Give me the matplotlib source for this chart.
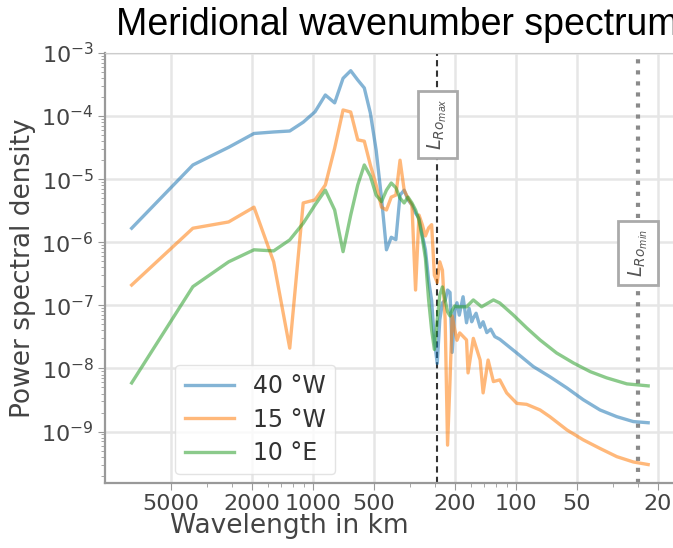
import numpy as np
import matplotlib.pyplot as plt
from matplotlib.ticker import NullFormatter

# spectra: wavelength (km) and power spectral density, one list pair per section
wl_40w = [7810, 3900, 2600, 1950, 1560, 1300, 1116, 976, 868, 781, 710, 651, 601, 558,
          521, 488, 459, 434, 411, 390, 372, 355, 340, 325, 312, 300, 289, 279, 269,
          260, 252, 244, 237, 230, 223, 217, 211, 206, 200, 195, 190, 182, 175, 170,
          165, 162, 157, 150, 145, 139, 133, 127, 120, 99, 82, 68, 56, 46.6, 38.5,
          31.8, 26.4, 22.3]
psd_40w = [1.67e-6, 1.68e-5, 3.2e-5, 5.3e-5, 5.6e-5, 5.8e-5, 8.0e-5, 1.17e-4, 2.16e-4,
           1.62e-4, 3.97e-4, 5.24e-4, 3.73e-4, 2.79e-4, 1.12e-4, 2.9e-5, 5.0e-6, 7.6e-7,
           1.2e-6, 1.1e-6, 5.6e-6, 6.7e-6, 4.7e-6, 3.9e-6, 2.9e-6, 2.4e-6, 1.3e-6, 7.6e-7,
           2.5e-7, 1.2e-7, 2.8e-8, 1.2e-8, 5.9e-8, 1.1e-7, 1.2e-7, 1.75e-7, 1.6e-7, 1.8e-8,
           8.4e-8, 1.1e-7, 7.0e-8, 1.37e-7, 5.3e-8, 9.0e-8, 5.5e-8, 6.3e-8, 7.5e-8, 4.5e-8,
           5.5e-8, 3.7e-8, 4.2e-8, 3.2e-8, 2.9e-8, 1.76e-8, 1.07e-8, 7.4e-9, 4.9e-9, 3.2e-9,
           2.2e-9, 1.72e-9, 1.44e-9, 1.38e-9]

wl_15w = [7810, 3900, 2600, 1950, 1560, 1300, 1116, 976, 868, 781, 710, 651, 601, 558,
          521, 488, 459, 434, 411, 390, 372, 355, 340, 325, 312, 300, 289, 279, 269,
          260, 252, 244, 237, 230, 223, 217, 211, 206, 200, 195, 189, 175, 172, 162,
          150, 145, 137, 129, 120, 111, 99, 88.5, 76, 68, 56, 46.6, 38.5, 31.8, 26.4, 22.3]
psd_15w = [2.1e-7, 1.67e-6, 2.1e-6, 3.6e-6, 4.9e-7, 2.1e-8, 4.2e-6, 4.7e-6, 8.1e-6, 3.1e-5,
           1.25e-4, 1.16e-4, 4.2e-5, 4.0e-5, 1.68e-5, 8.1e-6, 3.6e-6, 3.25e-6, 5.2e-6, 5.6e-6,
           2.0e-5, 6.7e-6, 5.0e-6, 3.9e-6, 1.75e-7, 2.7e-6, 1.9e-6, 1.26e-6, 1.69e-6, 1.9e-6,
           3.0e-7, 2.3e-7, 4.9e-7, 3.6e-7, 5.9e-8, 6.1e-10, 6.6e-9, 6.8e-8, 4.1e-8, 2.8e-8,
           3.66e-8, 2.83e-8, 8.5e-9, 3.0e-8, 1.36e-8, 4.1e-9, 1.36e-8, 6.2e-9, 6.6e-9, 4.1e-9,
           2.8e-9, 2.7e-9, 2.2e-9, 1.72e-9, 1.06e-9, 7.4e-10, 5.4e-10, 4.0e-10, 3.3e-10, 3.0e-10]

wl_10e = [7810, 3900, 2600, 1950, 1560, 1300, 1116, 976, 868, 781, 710, 651, 601, 558,
          521, 488, 459, 434, 411, 390, 372, 355, 340, 325, 312, 300, 289, 279, 269,
          260, 252, 244, 237, 230, 223, 217, 211, 206, 200, 195, 175, 162, 147.5, 129,
          120, 103, 88.5, 76, 63, 52, 43, 35.7, 28.4, 22.3]
psd_10e = [5.9e-9, 1.98e-7, 4.9e-7, 7.6e-7, 7.3e-7, 1.09e-6, 2.0e-6, 3.9e-6, 6.7e-6, 3.25e-6,
           7.1e-7, 2.7e-6, 8.1e-6, 1.68e-5, 1.12e-5, 5.6e-6, 4.4e-6, 6.7e-6, 8.7e-6, 7.3e-6,
           5.0e-6, 4.2e-6, 5.2e-6, 4.2e-6, 3.25e-6, 2.25e-6, 1.17e-6, 5.6e-7, 1.22e-7, 4.1e-8,
           2.0e-8, 5.9e-8, 1.46e-7, 1.96e-7, 1.2e-7, 7.9e-8, 6.8e-8, 8.4e-8, 9.8e-8, 9.5e-8,
           9.5e-8, 1.22e-7, 9.5e-8, 1.22e-7, 1.09e-7, 7.05e-8, 4.4e-8, 2.83e-8, 1.76e-8,
           1.22e-8, 8.9e-9, 7.1e-9, 5.7e-9, 5.3e-9]

labels = ['40 °W', '15 °W', '10 °E']
tick_km = [5000, 2000, 1000, 500, 200, 100, 50, 20]
lro_max, lro_min = 244, 25  # Rossby radius limits, km

fig = plt.figure(figsize=(6.73, 5.48), dpi=100)
ax = fig.add_axes([0.156, 0.1186, 0.869, 0.7847])

colors = ['tab:blue', 'tab:orange', 'tab:green']
for wl, psd, lab, c in zip([wl_40w, wl_15w, wl_10e], [psd_40w, psd_15w, psd_10e], labels, colors):
    ax.plot(1.0 / np.array(wl), psd, color=c, alpha=0.55, lw=2.4, label=lab)

ax.set_xscale('log')
ax.set_yscale('log')
ax.set_xlim(1 / 10570, 1 / 13.9)
ax.set_ylim(1.53e-10, 1e-3)

ax.set_xticks(1.0 / np.array(tick_km))
ax.set_xticklabels([str(t) for t in tick_km])
ax.xaxis.set_minor_formatter(NullFormatter())
ax.yaxis.set_minor_formatter(NullFormatter())

# Rossby radius markers
ax.axvline(1 / lro_max, color='#333333', ls='--', lw=1.5, dashes=(3, 2), zorder=1)
ax.axvline(1 / lro_min, color='#8a8a8a', ls=':', lw=3, zorder=1)
box = dict(boxstyle='square,pad=0.4', fc='white', ec='#aaaaaa', lw=2)
ax.text(1 / lro_max, 7.4e-5, r'$L_{Ro_{max}}$', rotation=90, ha='center', va='center',
        fontsize=14, color='#555555', bbox=box)
ax.text(1 / lro_min, 6.8e-7, r'$L_{Ro_{min}}$', rotation=90, ha='center', va='center',
        fontsize=14, color='#555555', bbox=box)

ax.grid(True, which='major', color='#e6e6e6', lw=1.8)
ax.set_axisbelow(True)
for side in ['left', 'bottom']:
    ax.spines[side].set_color('#999999')
    ax.spines[side].set_linewidth(1.6)
for side in ['top', 'right']:
    ax.spines[side].set_color('#cccccc')
ax.tick_params(which='both', direction='out', color='#999999', labelcolor='#444444',
               labelsize=16, pad=3)
ax.tick_params(which='major', length=5)
ax.tick_params(which='minor', length=3)

ax.set_ylabel('Power spectral density', fontsize=19, color='#444444')
ax.set_xlabel('Wavelength in km', fontsize=19, color='#444444', va='center')
ax.xaxis.set_label_coords(0.316, -0.1)

leg = ax.legend(loc='lower left', bbox_to_anchor=(0.12, 0.02), borderaxespad=0,
                fontsize=17, handlelength=2.1, handletextpad=0.8, labelspacing=0.4,
                frameon=True, edgecolor='#dddddd', framealpha=0.8)
for t in leg.get_texts():
    t.set_color('#333333')

fig.text(116 / 673, 1 - 35 / 548, 'Meridional wavenumber spectrum', ha='left',
         va='baseline', fontsize=27, family='Liberation Sans', color='black')

fig.savefig('out.png', dpi=100)
